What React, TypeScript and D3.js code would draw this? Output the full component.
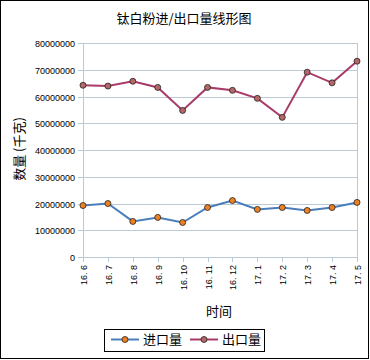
import React from "react";
import * as d3 from "d3";

const categories = ["16. 6", "16. 7", "16. 8", "16. 9", "16. 10", "16. 11", "16. 12", "17. 1", "17. 2", "17. 3", "17. 4", "17. 5"];
const importValues = [19250000, 20000000, 13300000, 14800000, 12900000, 18500000, 21100000, 17800000, 18500000, 17400000, 18500000, 20400000];
const exportValues = [64200000, 63900000, 65700000, 63400000, 54800000, 63400000, 62300000, 59300000, 52200000, 69100000, 65100000, 73200000];
const yTicks = [0, 10000000, 20000000, 30000000, 40000000, 50000000, 60000000, 70000000, 80000000];
const seriesNames = ["进口量", "出口量"];

const W = 370, H = 360;
const left = 83, right = 357, top = 43, bottom = 257;
const CJK = "'Noto Sans CJK SC', sans-serif";
const NUM = "'Liberation Sans', Arial, sans-serif";
const grid = "#b9c9d6";

export default function App() {
  const x = d3.scalePoint<string>().domain(categories).range([left, right]);
  const y = d3.scaleLinear().domain([0, 80000000]).range([bottom, top]);
  const line = d3.line<number>().x((_, i) => x(categories[i]) as number).y(d => y(d));
  const series = [
    { name: seriesNames[0], data: importValues, color: "#4a7ebb", fill: "#ee8022" },
    { name: seriesNames[1], data: exportValues, color: "#a93b68", fill: "#b56767" },
  ];
  return (
    <svg width={W} height={H} style={{ position: "absolute", left: 0, top: 0, background: "#fff" }}>
      <rect x={0.5} y={0.5} width={368} height={358} fill="#fff" stroke="#000" strokeWidth={1} />
      <text x={184} y={23} textAnchor="middle" fontFamily={CJK} fontSize={13} fill="#000">钛白粉进/出口量线形图</text>
      {yTicks.map(t => (
        <g key={t}>
          <line x1={left} x2={right} y1={Math.round(y(t)) + 0.5} y2={Math.round(y(t)) + 0.5} stroke={grid} />
          <line x1={left - 5} x2={left} y1={Math.round(y(t)) + 0.5} y2={Math.round(y(t)) + 0.5} stroke={grid} />
          <text x={left - 8} y={Math.round(y(t)) + 3.5} textAnchor="end" fontFamily={NUM} fontSize={9} fill="#000">{t}</text>
        </g>
      ))}
      <line x1={left + 0.5} x2={left + 0.5} y1={top} y2={bottom + 5} stroke={grid} />
      <line x1={right + 0.5} x2={right + 0.5} y1={top} y2={bottom + 5} stroke={grid} />
      {categories.map(c => {
        const cx = Math.round(x(c) as number) + 0.5;
        return (
          <g key={c}>
            <line x1={cx} x2={cx} y1={bottom} y2={bottom + 5} stroke={grid} />
            <text transform={`translate(${cx + 3},${bottom + 8}) rotate(-90)`} textAnchor="end" fontFamily={NUM} fontSize={9} fill="#000">{c}</text>
          </g>
        );
      })}
      <text transform="translate(24,149) rotate(-90)" textAnchor="middle" fontFamily={CJK} fontSize={13} fill="#000">数量 (千克)</text>
      <text x={219} y={316} textAnchor="middle" fontFamily={CJK} fontSize={13} fill="#000">时间</text>
      {series.map(s => (
        <g key={s.name}>
          <path d={line(s.data) || ""} fill="none" stroke={s.color} strokeWidth={2} />
          {s.data.map((v, i) => (
            <circle key={i} cx={x(categories[i]) as number} cy={y(v)} r={3} fill={s.fill} stroke="#222" strokeWidth={0.8} />
          ))}
        </g>
      ))}
      <rect x={104.5} y={329.5} width={160} height={22} fill="#fff" stroke="#000" />
      {series.map((s, i) => {
        const lx = 111 + i * 79;
        return (
          <g key={s.name}>
            <line x1={lx} x2={lx + 28} y1={339.5} y2={339.5} stroke={s.color} strokeWidth={2} />
            <circle cx={lx + 14} cy={339.5} r={3} fill={s.fill} stroke="#222" strokeWidth={0.8} />
            <text x={lx + 32} y={344} fontFamily={CJK} fontSize={13} fill="#000">{s.name}</text>
          </g>
        );
      })}
    </svg>
  );
}
